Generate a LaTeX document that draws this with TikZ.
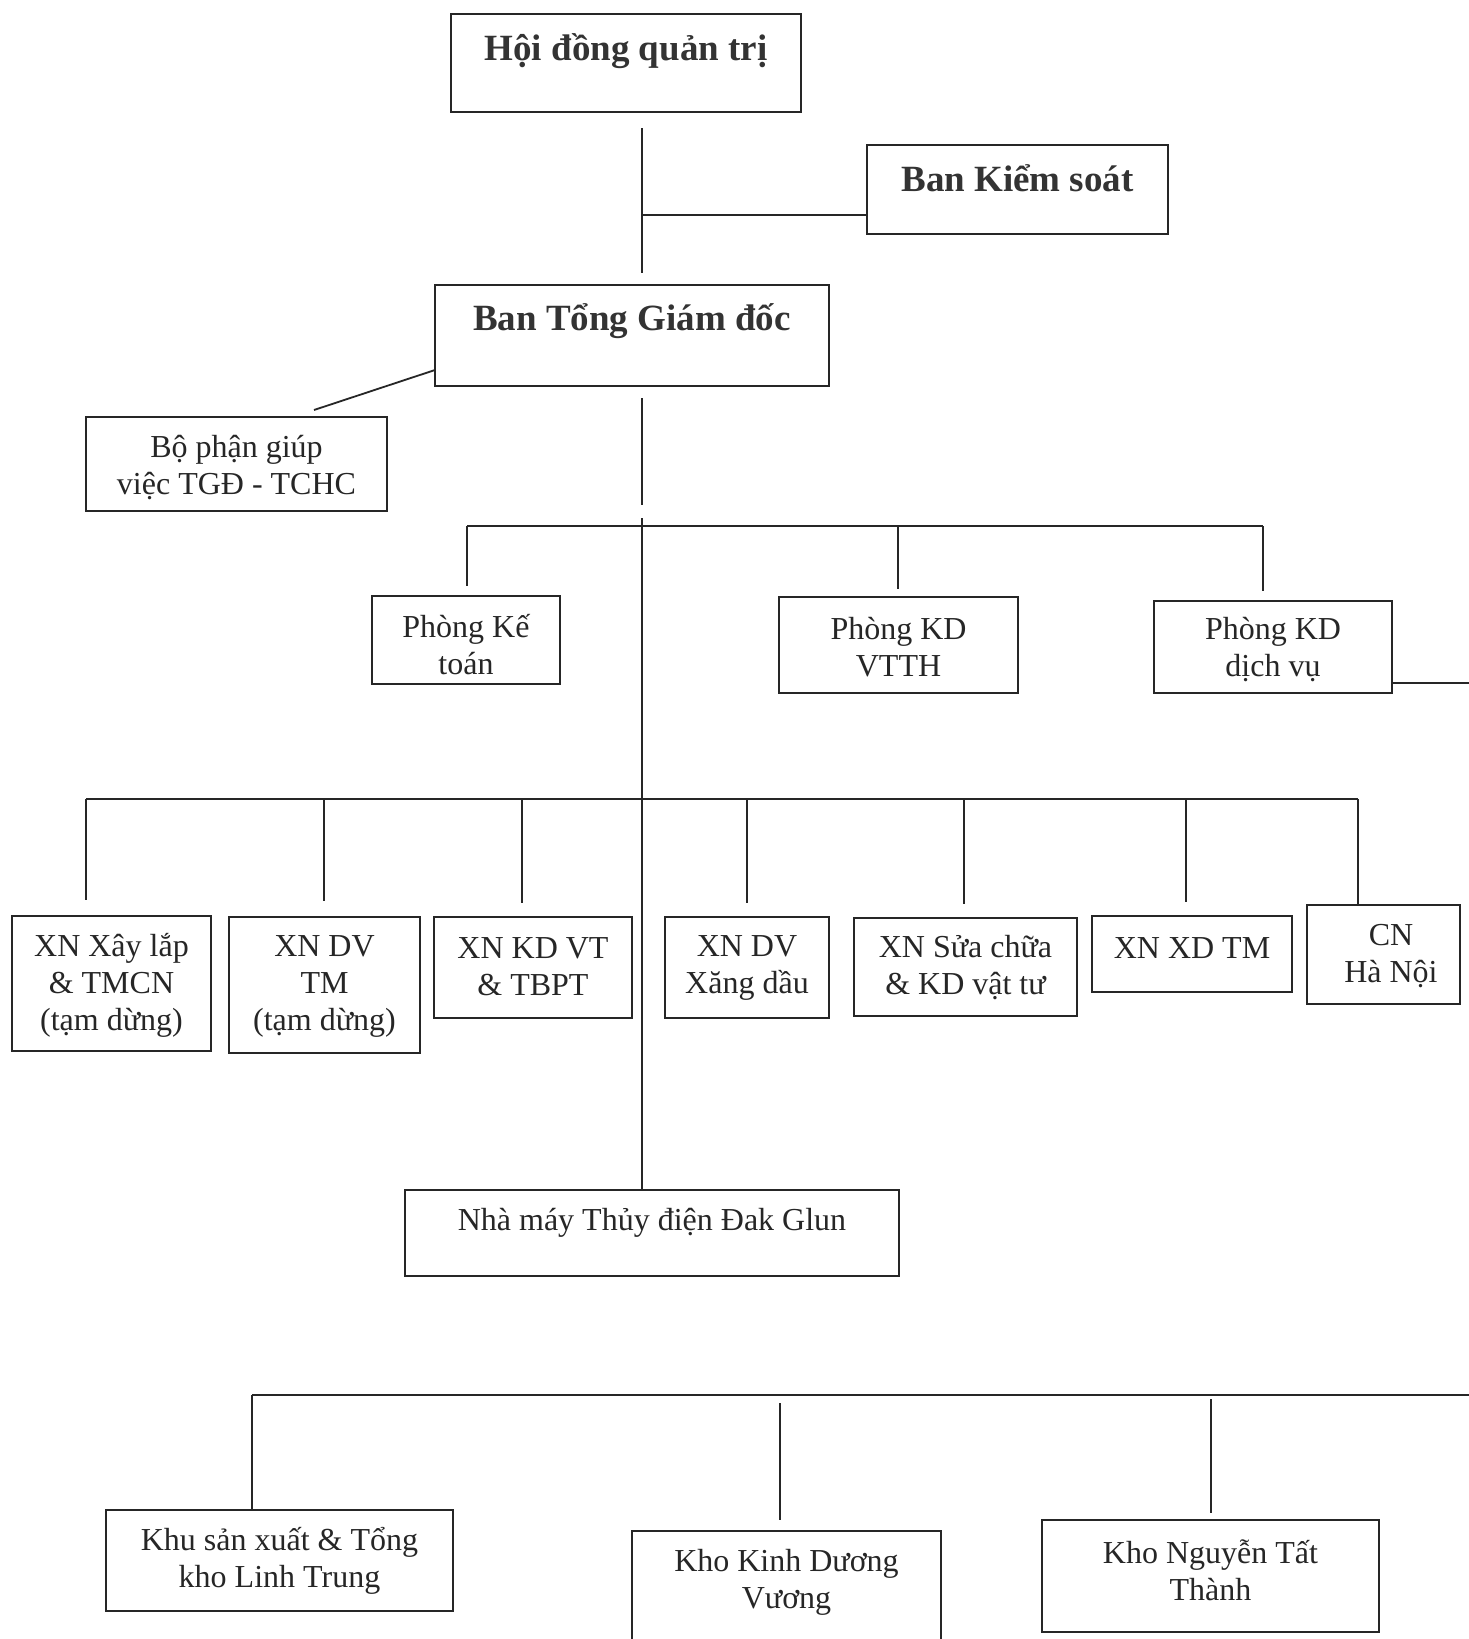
\documentclass[tikz,border=0pt]{standalone}
\usepackage{fontspec}
\setmainfont{Liberation Serif}
\begin{document}
\begin{tikzpicture}[x=1pt,y=-1pt,
  box/.style={draw=black!85, line width=2.4pt, inner sep=0pt},
  txt/.style={inner sep=0pt, align=center, text=black!85, font=\fontsize{32}{37}\selectfont},
  btxt/.style={inner sep=0pt, align=center, text=black!80, font=\fontsize{37}{42}\selectfont\bfseries},
  conn/.style={draw=black!85, line width=1.8pt}]
\useasboundingbox (0,0) rectangle (1469,1639);
\fill[white] (0,0) rectangle (1469,1639);

% boxes
\node[box, minimum width=350pt, minimum height=98pt] (hdqt) at (626,63) {};
\node[btxt] (hdqt-t) at (626,51) {Hội đồng quản trị};
\node[box, minimum width=301pt, minimum height=89pt] (bks) at (1017.5,189.5) {};
\node[btxt] (bks-t) at (1017.5,178) {Ban Kiểm soát};
\node[box, minimum width=394pt, minimum height=101pt] (btgd) at (632,335.5) {};
\node[btxt] (btgd-t) at (632,321) {Ban Tổng Giám đốc};
\node[box, minimum width=301pt, minimum height=94pt] (bp) at (236.5,464) {};
\node[txt] (bp-t) at (236.5,468) {Bộ phận giúp\\việc TGĐ - TCHC};

\node[box, minimum width=188pt, minimum height=88pt] (pkt) at (466,640) {};
\node[txt] (pkt-t) at (466,645) {Phòng Kế\\toán};
\node[box, minimum width=239pt, minimum height=96pt] (pvt) at (898.5,645) {};
\node[txt] (pvt-t) at (898.5,647) {Phòng KD\\VTTH};
\node[box, minimum width=238pt, minimum height=92pt] (pdv) at (1273,647) {};
\node[txt] (pdv-t) at (1273,650) {Phòng KD\\dịch vụ};

\node[box, minimum width=199pt, minimum height=135pt] (x1) at (111.5,983.5) {};
\node[txt] (x1-t) at (111.5,985.5) {XN Xây lắp\\\& TMCN\\(tạm dừng)};
\node[box, minimum width=191pt, minimum height=136pt] (x2) at (324.5,985) {};
\node[txt] (x2-t) at (324.5,986) {XN DV\\TM\\(tạm dừng)};
\node[box, minimum width=198pt, minimum height=101pt] (x3) at (533,967.5) {};
\node[txt] (x3-t) at (533,967) {XN KD VT\\\& TBPT};
\node[box, minimum width=164pt, minimum height=101pt] (x4) at (747,967.5) {};
\node[txt] (x4-t) at (747,968) {XN DV\\Xăng dầu};
\node[box, minimum width=223pt, minimum height=98pt] (x5) at (965.5,967) {};
\node[txt] (x5-t) at (965.5,968) {XN Sửa chữa\\\& KD vật tư};
\node[box, minimum width=200pt, minimum height=76pt] (x6) at (1192,954) {};
\node[txt] (x6-t) at (1192,948) {XN XD TM};
\node[box, minimum width=153pt, minimum height=99pt] (x7) at (1383.5,954.5) {};
\node[txt] (x7-t) at (1391,956) {CN\\Hà Nội};

\node[box, minimum width=494pt, minimum height=86pt] (nm) at (652,1233) {};
\node[txt] (nm-t) at (652,1223) {Nhà máy Thủy điện Đak Glun};

\node[box, minimum width=347pt, minimum height=101pt] (k1) at (279.5,1560.5) {};
\node[txt] (k1-t) at (279.5,1560.5) {Khu sản xuất \& Tổng\\kho Linh Trung};
\node[box, minimum width=309pt, minimum height=119pt] (k2) at (786.5,1590.5) {};
\node[txt] (k2-t) at (786.5,1582) {Kho Kinh Dương\\Vương};
\node[box, minimum width=337pt, minimum height=112pt] (k3) at (1210.5,1576) {};
\node[txt] (k3-t) at (1210.5,1570) {Kho Nguyễn Tất\\Thành};

% connector coordinates
\coordinate (m1) at (642,128);
\coordinate (m2) at (642,273);
\coordinate (jb) at (642,215);
\coordinate (m3) at (642,398);
\coordinate (m4) at (642,505);
\coordinate (m5) at (642,518);
\coordinate (d1) at (435,370);
\coordinate (d2) at (314,410);
\coordinate (pa) at (467,526);
\coordinate (pb) at (898,526);
\coordinate (pc) at (1263,526);
\coordinate (re) at (1469,683);
\coordinate (xa) at (86,799);
\coordinate (xb) at (324,799);
\coordinate (xc) at (522,799);
\coordinate (xd) at (747,799);
\coordinate (xe) at (964,799);
\coordinate (xf) at (1186,799);
\coordinate (xg) at (1358,799);
\coordinate (ka) at (252,1395);
\coordinate (kb) at (780,1403);
\coordinate (kc) at (1211,1399);
\coordinate (ke) at (1469,1395);

% connectors
\draw[conn] (m1) -- (m2);
\draw[conn] (jb) -- (jb -| bks.west);
\draw[conn] (d1) -- (d2);
\draw[conn] (m3) -- (m4);
\draw[conn] (m5) -- (m5 |- nm.north);
\draw[conn] (pa) -- (pc);
\draw[conn, shorten >=9pt] (pa) -- (pa |- pkt.north);
\draw[conn, shorten >=7pt] (pb) -- (pb |- pvt.north);
\draw[conn, shorten >=9pt] (pc) -- (pc |- pdv.north);
\draw[conn] (re -| pdv.east) -- (re);
\draw[conn] (xa) -- (xg);
\draw[conn, shorten >=15pt] (xa) -- (xa |- x1.north);
\draw[conn, shorten >=15pt] (xb) -- (xb |- x2.north);
\draw[conn, shorten >=13pt] (xc) -- (xc |- x3.north);
\draw[conn, shorten >=13pt] (xd) -- (xd |- x4.north);
\draw[conn, shorten >=13pt] (xe) -- (xe |- x5.north);
\draw[conn, shorten >=13pt] (xf) -- (xf |- x6.north);
\draw[conn] (xg) -- (xg |- x7.north);
\draw[conn] (ka) -- (ke);
\draw[conn] (ka) -- (ka |- k1.north);
\draw[conn, shorten >=10pt] (kb) -- (kb |- k2.north);
\draw[conn, shorten >=6pt] (kc) -- (kc |- k3.north);
\end{tikzpicture}
\end{document}
